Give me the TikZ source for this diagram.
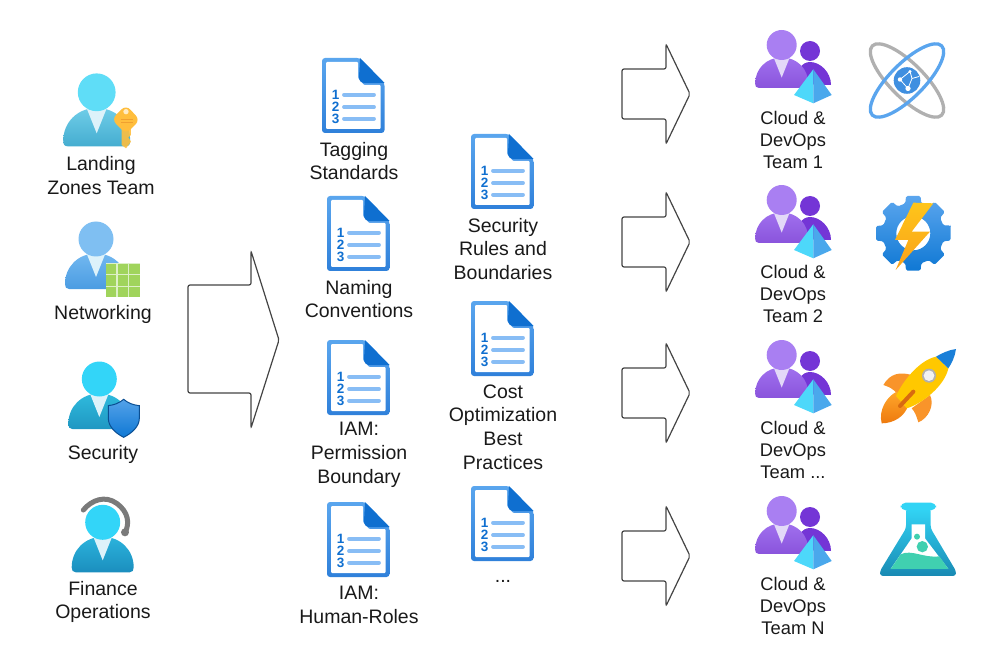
\documentclass[tikz,border=0pt]{standalone}
\usepackage{fontspec}
\setmainfont{Liberation Sans}
\usetikzlibrary{arrows.meta,calc}

\definecolor{lineGray}{HTML}{444444}
\definecolor{docBlue}{HTML}{5AA6EE}
\definecolor{docDark}{HTML}{2F80DA}
\definecolor{docFold}{HTML}{0F6FD0}
\definecolor{docLine}{HTML}{88BDF5}
\definecolor{collar}{HTML}{DDF2FA}
\definecolor{keyHead}{HTML}{5FDDF7}
\definecolor{keyTop}{HTML}{6FCDE8}
\definecolor{keyBot}{HTML}{45ADD0}
\definecolor{netHead}{HTML}{7FBFF2}
\definecolor{netTop}{HTML}{72B8F0}
\definecolor{netBot}{HTML}{4B9CE2}
\definecolor{secHead}{HTML}{33D5F8}
\definecolor{secTop}{HTML}{2FBBDD}
\definecolor{secBot}{HTML}{1F97C2}
\definecolor{finTop}{HTML}{2BB3DC}
\definecolor{finBot}{HTML}{1B8EBE}
\definecolor{teamHead}{HTML}{A97FF2}
\definecolor{teamTop}{HTML}{A070EE}
\definecolor{teamBot}{HTML}{8A54DC}
\definecolor{teamBack}{HTML}{7435D6}
\definecolor{teamCollar}{HTML}{E3D9F8}
\definecolor{pyrLeft}{HTML}{4DD8FA}
\definecolor{pyrRight}{HTML}{4AA8EC}
\definecolor{gridGreen}{HTML}{A0D45C}
\definecolor{gridBack}{HTML}{DDF0C8}
\definecolor{keyGold}{HTML}{FFBE3D}
\definecolor{keyDark}{HTML}{F0A030}
\definecolor{atomBlue}{HTML}{5AA5EE}
\definecolor{atomGray}{HTML}{B0B0B0}
\definecolor{globeBlue}{HTML}{3F8FE0}
\definecolor{gearTop}{HTML}{5BA6EE}
\definecolor{gearBot}{HTML}{0F78D4}
\definecolor{boltTop}{HTML}{FFC51A}
\definecolor{boltBot}{HTML}{F9A11A}
\definecolor{finOrange}{HTML}{F9942A}
\definecolor{flameTop}{HTML}{FFA62B}
\definecolor{flameBot}{HTML}{EE7A0E}
\definecolor{slit}{HTML}{D86A10}
\definecolor{noseBlue}{HTML}{1A7FD8}
\definecolor{rocketBody}{HTML}{FFC800}
\definecolor{flaskTop}{HTML}{32D4F5}
\definecolor{flaskBot}{HTML}{198AB3}
\definecolor{liquid}{HTML}{40D0B0}

\tikzset{
    label text/.style={font=\fontsize{19.5}{23.8}\selectfont, align=center, text=black!90},
    team text/.style={font=\fontsize{18.3}{22}\selectfont, align=center, text=black!90},
    blockarrow/.style={draw=lineGray, line width=1.2pt, rounded corners=2pt, fill=white},
}

% person: position, scale, head colour, body top, body bottom
\newcommand{\person}[5]{
    \begin{scope}[shift={#1}, scale=#2]
        \shade[top color=#4, bottom color=#5] (-27,50) -- (27,50)
            .. controls (30,50) and (31,48) .. (31,45)
            .. controls (31,28) and (18,14.5) .. (0,14.5)
            .. controls (-18,14.5) and (-31,28) .. (-31,45)
            .. controls (-31,48) and (-30,50) .. (-27,50) -- cycle;
        \fill[collar] (-9,15.5) -- (9,15.5) -- (0,38) -- cycle;
        \fill[#3] (0,0) circle (17.5);
    \end{scope}
}

% document icon: name, top left corner
\newcommand{\docicon}[2]{
    \begin{scope}[shift={#2}]
        \shade[top color=docBlue, bottom color=docDark, rounded corners=3pt]
            (0,0) -- (38,0) -- (62.5,25) -- (62.5,75) -- (0,75) -- cycle;
        \fill[white, rounded corners=1pt] (4,4) -- (36,4) -- (36,20) -- (42,27) -- (58.5,27) -- (58.5,71) -- (4,71) -- cycle;
        \fill[docFold] (38,0) -- (62.5,25) -- (43,25) .. controls (39,25) and (37,23) .. (37,19) -- cycle;
        \foreach \n/\ly in {1/36.7,2/49,3/60.7} {
            \draw[docLine, line width=3.8pt, line cap=round] (22,\ly) -- (52,\ly);
            \node[font=\bfseries\fontsize{13.5}{13.5}\selectfont, text=docFold, inner sep=0pt] (#1-\n) at (13.7,\ly) {\n};
        }
    \end{scope}
}

% cloud team icon: vertical offset
\newcommand{\teamicon}[1]{
    \begin{scope}[shift={(0,#1)}]
        \colorlet{collar}{teamCollar}
        \fill[teamBack] (810,51) circle (10);
        \fill[teamBack] (796,84) .. controls (796,70) and (802,62) .. (810,62)
            .. controls (820,62) and (831,72) .. (831,85) -- cycle;
        \person{(781.7,45)}{0.857}{teamHead}{teamTop}{teamBot}
        \fill[pyrLeft] (813.3,69.3) -- (794,95) -- (813.3,103.3) -- cycle;
        \fill[pyrRight] (813.3,69.3) -- (831.7,95) -- (813.3,103.3) -- cycle;
    \end{scope}
}

\begin{document}
\begin{tikzpicture}[x=1pt, y=-1pt]
    \useasboundingbox (0,0) rectangle (1006,668);

    % --- Left column, people ---
    \person{(96.7,92.3)}{1.08}{keyHead}{keyTop}{keyBot}
    \person{(96,239)}{1}{netHead}{netTop}{netBot}
    \person{(99.3,379)}{1}{secHead}{secTop}{secBot}
    \person{(102.7,522.3)}{1}{secHead}{finTop}{finBot}

    % key
    \begin{scope}[shift={(50,60)}, scale=0.3333]
        \fill[keyGold, opacity=0.9] (215,205) -- (243,205) -- (243,225) -- (235,232) -- (243,245) -- (228,265) -- (215,255) -- cycle;
        \fill[keyGold, rounded corners=6pt] (228,135) -- (270,180) -- (228,222) -- (185,178) -- cycle;
        \fill[white!70!keyGold] (228,155) circle (8);
        \draw[keyDark, line width=1pt] (213,178) -- (248,178) (213,187) -- (248,187);
    \end{scope}

    % grid
    \begin{scope}[shift={(50,210)}, scale=0.3333]
        \fill[gridBack] (167,160) rectangle (270,262);
        \foreach \i in {0,1,2} \foreach \j in {0,1,2}
            \fill[gridGreen] ({168+\i*35},{161+\j*35}) rectangle ++(31,31);
    \end{scope}

    % shield
    \begin{scope}[shift={(50,210)}, scale=0.3333]
        \shade[top color=docBlue!60!netBot, bottom color=gearBot, draw=docFold!70!black, line width=1pt]
            (221,568) .. controls (235,580) and (250,585) .. (268,587) -- (268,625)
            .. controls (268,650) and (245,670) .. (221,682)
            .. controls (197,670) and (175,650) .. (175,625) -- (175,587)
            .. controls (192,585) and (207,580) .. (221,568) -- cycle;
    \end{scope}

    % headset
    \begin{scope}[shift={(50,490)}, scale=0.3333]
        \draw[black!52, line width=5pt, line cap=round] (100,60) .. controls (125,30) and (165,15) .. (200,40)
            .. controls (235,65) and (240,100) .. (225,128);
        \fill[black!52] (225,127) circle (12);
    \end{scope}

    \node[label text] (landing) at (101,175.5) {Landing\\Zones Team};
    \node[label text] (networking) at (103,314) {Networking};
    \node[label text] (security) at (103,454) {Security};
    \node[label text] (finance) at (103,602) {Finance\\Operations};

    % --- Arrows ---
    \draw[blockarrow] (188,285) -- (251,285) -- (251,251) -- (279,340) -- (251,428) -- (251,393) -- (188,393) -- cycle;
    \foreach \yc in {94,242,393,556} {
        \draw[blockarrow] (622,\yc-25) -- (666,\yc-25) -- (666,\yc-50) -- (690,\yc) -- (666,\yc+50) -- (666,\yc+25) -- (622,\yc+25) -- cycle;
    }

    % --- Documents ---
    \docicon{docA}{(322,58)}
    \docicon{docB}{(327,196)}
    \docicon{docC}{(327,340)}
    \docicon{docD}{(327,502)}
    \docicon{docE}{(471,134)}
    \docicon{docF}{(471,301)}
    \docicon{docG}{(471,486)}

    \node[label text] (tagging) at (354,161) {Tagging\\Standards};
    \node[label text] (naming) at (359,299) {Naming\\Conventions};
    \node[label text] (boundary) at (359,455) {IAM:\\Permission\\Boundary};
    \node[label text] (roles) at (359,605) {IAM:\\Human-Roles};
    \node[label text] (rules) at (503,249) {Security\\Rules and\\Boundaries};
    \node[label text] (cost) at (503,427) {Cost\\Optimization\\Best\\Practices};
    \node[label text] (more) at (503,581) {...};

    % --- Teams ---
    \teamicon{0}
    \teamicon{155}
    \teamicon{310}
    \teamicon{466}

    \node[team text] (teamA) at (793,140) {Cloud \&\\DevOps\\Team 1};
    \node[team text] (teamB) at (793,294) {Cloud \&\\DevOps\\Team 2};
    \node[team text] (teamC) at (793,450) {Cloud \&\\DevOps\\Team ...};
    \node[team text] (teamD) at (793,606) {Cloud \&\\DevOps\\Team N};

    % --- Atom ---
    \begin{scope}[shift={(907,80.5)}]
        \draw[atomGray, line width=3.3pt, rotate=-45] (0,0) ellipse (49 and 17);
        \draw[atomBlue, line width=3.3pt, rotate=45] (0,0) ellipse (49 and 17);
        \fill[globeBlue] (0,0) circle (13.3);
        \draw[white, line width=0.8pt] (-7,-1) -- (3,-9) -- (5,-2) -- (1,8) -- (-7,-1) (5,-2) -- (12,-4);
        \fill[white] (-7,-1) circle (2.2) (1,8) circle (2.6) (3,-9) circle (1.6);
    \end{scope}

    % --- Gear ---
    \begin{scope}[shift={(913.3,233.3)}]
        \shade[top color=gearTop, bottom color=gearBot, even odd rule, rounded corners=1.5pt]
            (-12:38) \foreach \a in {0,45,...,315} { -- (\a-11:38) -- (\a+11:38) -- (\a+15:31) -- (\a+30:31) } -- cycle
            (0,0) circle (17);
    \end{scope}
    \begin{scope}[shift={(865,190)}, scale=0.3333]
        \shade[top color=boltTop, bottom color=boltBot]
            (145,38) -- (205,40) -- (140,125) -- (195,125) -- (92,240) -- (130,150) -- (90,150) -- cycle;
    \end{scope}

    % --- Rocket ---
    \begin{scope}[shift={(870,340)}, scale=0.3333]
        \fill[finOrange] (40,135) .. controls (60,100) and (90,95) .. (125,105) -- (85,165) .. controls (70,145) and (55,140) .. (40,135) -- cycle;
        \fill[finOrange] (145,247) .. controls (175,235) and (195,195) .. (180,165) -- (125,205) .. controls (135,215) and (140,230) .. (145,247) -- cycle;
        \shade[top color=flameTop, bottom color=flameBot] (35,250) .. controls (25,210) and (50,170) .. (80,155) -- (115,195) .. controls (105,230) and (70,250) .. (35,250) -- cycle;
        \fill[rocketBody] (198,50) .. controls (150,60) and (100,120) .. (78,168) -- (110,205) .. controls (160,190) and (225,135) .. (235,85) -- cycle;
        \fill[noseBlue] (258,27) .. controls (235,30) and (215,40) .. (198,50) -- (235,85) .. controls (245,70) and (255,50) .. (258,27) -- cycle;
        \fill[atomGray] (177,107) circle (21);
        \fill[white!95!black] (177,107) circle (16);
        \draw[slit, line width=4pt, line cap=round] (130,155) -- (90,198);
    \end{scope}

    % --- Flask ---
    \begin{scope}[shift={(870,495)}, scale=0.3333]
        \shade[top color=flaskTop, bottom color=flaskBot, rounded corners=3pt]
            (108,40) -- (182,40) -- (182,100) -- (258,228) -- (258,243) -- (30,243) -- (30,228) -- (108,100) -- cycle;
        \fill[flaskTop, rounded corners=5pt] (92,23) rectangle (198,46);
        \fill[white] (125,88) -- (165,88) -- (165,130) -- (235,222) -- (62,222) -- (125,130) -- cycle;
        \fill[liquid] (62,222) -- (92,178) .. controls (125,162) and (160,190) .. (208,184) -- (235,222) -- cycle;
        \fill[liquid] (157,155) circle (17) (141,125) circle (9);
    \end{scope}
\end{tikzpicture}
\end{document}
